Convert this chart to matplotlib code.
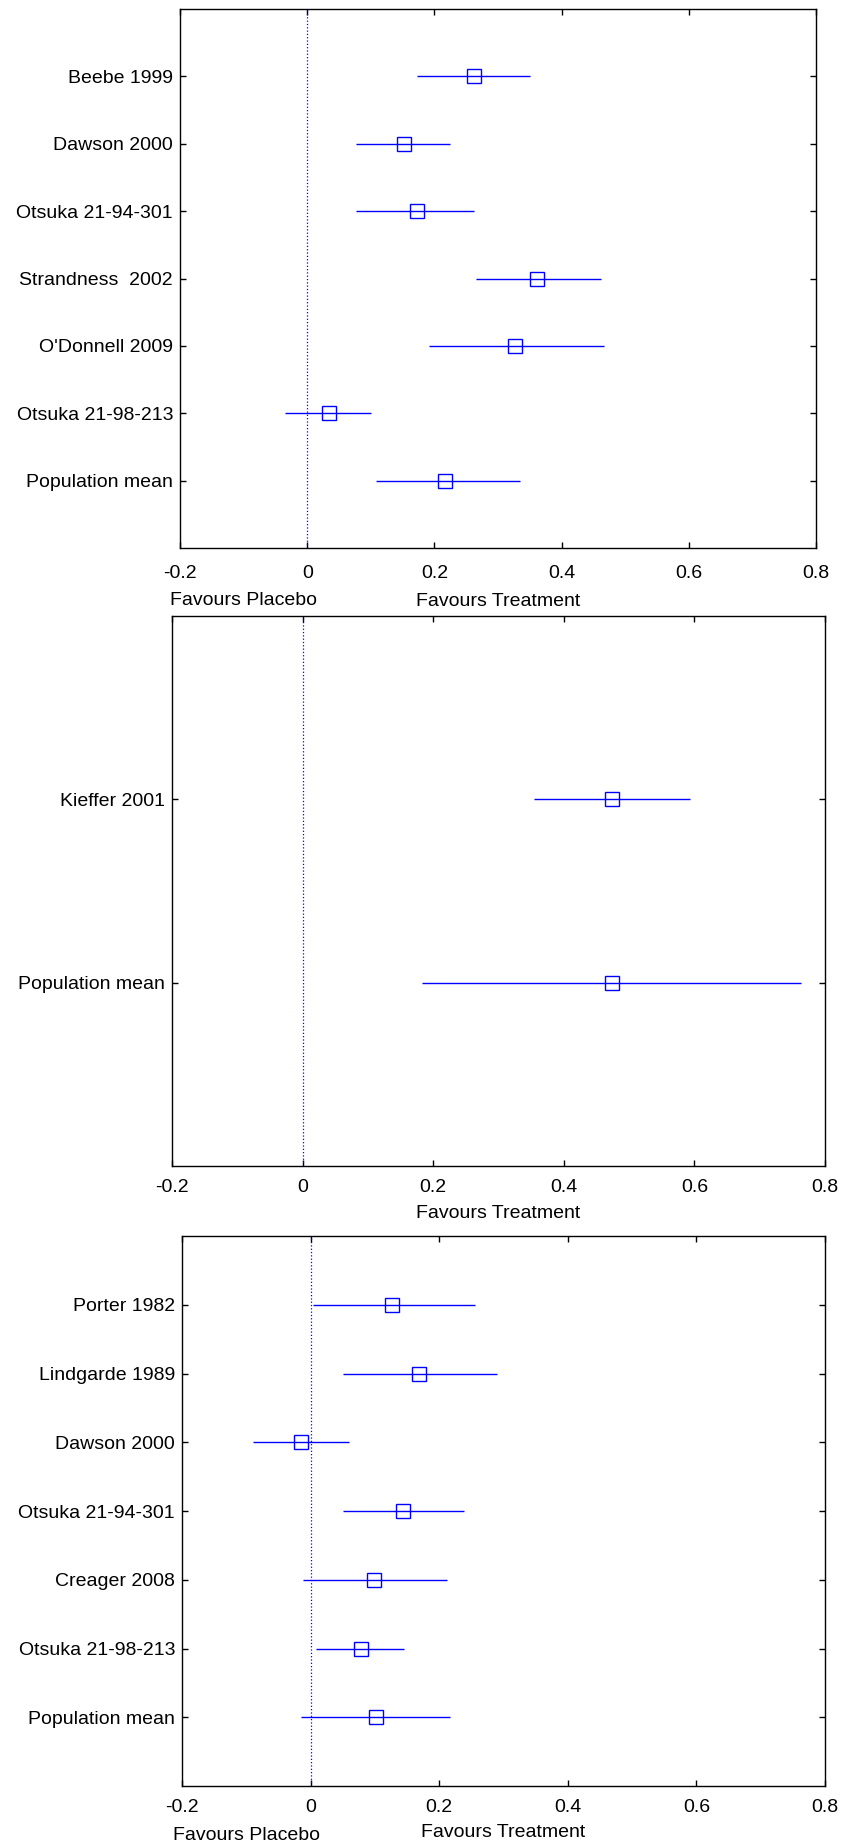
import numpy as np
import matplotlib
matplotlib.use("Agg")
import matplotlib.pyplot as plt
import matplotlib.transforms as mtransforms

plt.rcParams['font.family'] = ['Liberation Sans', 'DejaVu Sans']
plt.rcParams['font.size'] = 14

# panel 1
names1 = ['Beebe 1999', 'Dawson 2000', 'Otsuka 21-94-301', 'Strandness  2002',
          "O'Donnell 2009", 'Otsuka 21-98-213', 'Population mean']
mean1 = [0.262, 0.152, 0.172, 0.362, 0.327, 0.035, 0.217]
low1 = [0.172, 0.077, 0.077, 0.265, 0.192, -0.035, 0.108]
high1 = [0.351, 0.224, 0.262, 0.462, 0.467, 0.101, 0.334]

# panel 2
names2 = ['Kieffer 2001', 'Population mean']
mean2 = [0.474, 0.474]
low2 = [0.354, 0.183]
high2 = [0.593, 0.764]

# panel 3
names3 = ['Porter 1982', 'Lindgarde 1989', 'Dawson 2000', 'Otsuka 21-94-301',
          'Creager 2008', 'Otsuka 21-98-213', 'Population mean']
mean3 = [0.127, 0.169, -0.015, 0.144, 0.098, 0.079, 0.101]
low3 = [0.003, 0.051, -0.090, 0.051, -0.012, 0.008, -0.015]
high3 = [0.255, 0.290, 0.060, 0.239, 0.212, 0.146, 0.217]

xticks = [-0.2, 0, 0.2, 0.4, 0.6, 0.8]
xticklabels = ['-0.2', '0', '0.2', '0.4', '0.6', '0.8']

W, H = 842, 1843
fig = plt.figure(figsize=(W / 100, H / 100), dpi=100)


def px_rect(left, top, right, bottom):
    return [left / W, 1 - bottom / H, (right - left) / W, (bottom - top) / H]


def forest(rect, names, mean, low, high, placebo, xpad, lpad, ppos=-0.082):
    ax = fig.add_axes(rect)
    n = len(names)
    y = np.arange(1, n + 1)
    ax.axvline(0, color='blue', linestyle=':', linewidth=0.9)
    ax.hlines(y, low, high, color='blue', linewidth=1.0)
    ax.plot(mean, y, 's', markersize=9.5, markerfacecolor='none',
            markeredgecolor='blue', markeredgewidth=1.0, linestyle='none')
    ax.set_xlim(-0.2, 0.8)
    ax.set_ylim(n + 1, 0)
    ax.set_xticks(xticks)
    ax.set_xticklabels(xticklabels)
    ax.set_yticks(y)
    ax.set_yticklabels(names)
    ax.tick_params(axis='both', direction='in', length=4, width=1.0,
                   top=True, right=True, labelsize=14)
    ax.tick_params(axis='x', pad=xpad)
    ax.tick_params(axis='y', pad=5)
    for s in ax.spines.values():
        s.set_linewidth(1.0)
    ax.set_xlabel('Favours Treatment', fontsize=14, labelpad=lpad)
    if placebo:
        tr = mtransforms.blended_transform_factory(ax.transData, ax.transAxes)
        ax.text(-0.1, ppos, 'Favours Placebo', transform=tr, ha='center',
                va='top', fontsize=14)
    return ax


ax1 = forest(px_rect(180, 9, 816, 548), names1, mean1, low1, high1, True,
             12.5, 8, -0.082)
ax2 = forest(px_rect(172, 616, 825, 1166), names2, mean2, low2, high2, False,
             9, 7)
ax3 = forest(px_rect(182, 1236, 825, 1786), names3, mean3, low3, high3, True,
             9, 6, -0.074)

fig.savefig('out.png', dpi=100)
